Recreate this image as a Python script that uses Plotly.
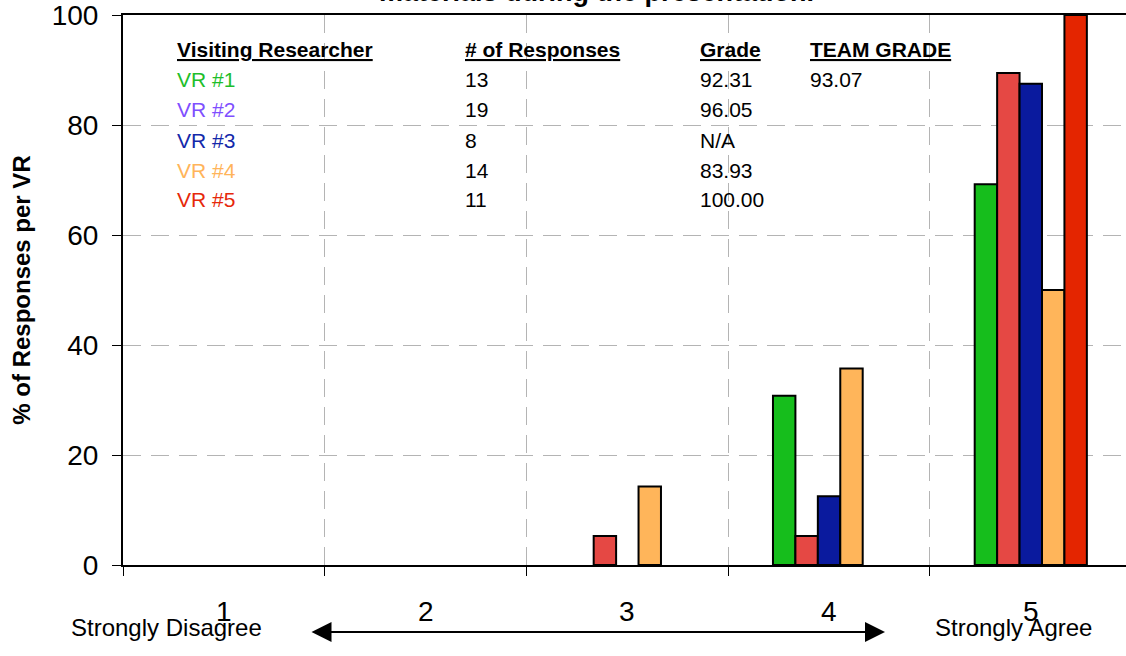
import plotly.graph_objects as go

# ---------------- data ----------------
categories = [1, 2, 3, 4, 5]
tick_labels = ["1", "2", "3", "4", "5"]
series_names = ["VR #1", "VR #2", "VR #3", "VR #4", "VR #5"]
vr1 = [0, 0, 0, 30.77, 69.23]
vr2 = [0, 0, 5.26, 5.26, 89.47]
vr3 = [0, 0, 0, 12.5, 87.5]
vr4 = [0, 0, 14.29, 35.71, 50.0]
vr5 = [0, 0, 0, 0, 100.0]
responses = ["13", "19", "8", "14", "11"]
grades = ["92.31", "96.05", "N/A", "83.93", "100.00"]
team_grade = "93.07"
y_ticks = [0, 20, 40, 60, 80, 100]
title_line = "materials during the presentation."
y_title = "% of Responses per VR"
left_label = "Strongly Disagree"
right_label = "Strongly Agree"

bar_colors = ["#16BE1C", "#E54844", "#0A1A9E", "#FFB55A", "#E42500"]
text_colors = ["#1EBE2A", "#7F4FFF", "#1428AA", "#FFB45A", "#E6280A"]

FONT = "Liberation Sans"
L, T, PW, PH = 123, 15, 1003, 550  # plot area in pixels


def px_x(p):
    return (p - L) / PW


def px_y(p):
    return (T + PH - p) / PH


fig = go.Figure()
for name, vals, col in zip(series_names, [vr1, vr2, vr3, vr4, vr5], bar_colors):
    fig.add_trace(go.Bar(
        x=categories,
        y=[v if v else None for v in vals],
        name=name,
        marker=dict(color=col, line=dict(color="black", width=2)),
        showlegend=False,
        hoverinfo="skip",
    ))

boundaries = [c - 0.5 for c in categories]

fig.update_layout(
    width=1126, height=656,
    margin=dict(l=L, r=0, t=T, b=656 - T - PH, autoexpand=False),
    paper_bgcolor="white", plot_bgcolor="white",
    barmode="group", bargap=0.444, bargroupgap=0,
    font=dict(family=FONT, color="black"),
    xaxis=dict(
        range=[0.5, 5.472],
        tickvals=boundaries,
        ticktext=["" for _ in boundaries],
        ticks="outside", ticklen=9, tickwidth=1, tickcolor="black",
        showgrid=True, gridcolor="#B4B4B4", gridwidth=1, griddash="18px,10px",
        showline=True, linecolor="black", linewidth=2, mirror=True,
        zeroline=False,
    ),
    yaxis=dict(
        range=[0, 100],
        tickvals=y_ticks,
        ticks="outside", ticklen=9, tickwidth=1, tickcolor="black",
        tickfont=dict(size=28, family=FONT),
        ticklabelstandoff=8,
        ticklabeloverflow="allow",
        showgrid=True, gridcolor="#B4B4B4", gridwidth=1, griddash="18px,10px",
        showline=True, linecolor="black", linewidth=2,
        zeroline=False,
        title=dict(text="<b>" + y_title + "</b>", font=dict(size=24, family=FONT), standoff=14),
    ),
)

ann = []
# x category labels
for c, t in zip(categories, tick_labels):
    ann.append(dict(x=c, xref="x", y=0, yref="paper", xanchor="center", yanchor="middle",
                    yshift=-46, text=t, showarrow=False, font=dict(size=28, family=FONT)))

# title (only its last line shows, clipped by the page edge)
ann.append(dict(x=px_x(596), xref="paper", y=1, yref="paper", xanchor="center",
                yanchor="bottom", yshift=6,
                text="<b>" + title_line + "</b>", showarrow=False,
                font=dict(size=27, family=FONT)))

# bottom scale labels
ann.append(dict(x=px_x(166), xref="paper", y=px_y(627), yref="paper", xanchor="center",
                yanchor="middle", text=left_label, showarrow=False,
                font=dict(size=24, family=FONT)))
ann.append(dict(x=px_x(1013), xref="paper", y=px_y(627), yref="paper", xanchor="center",
                yanchor="middle", text=right_label, showarrow=False,
                font=dict(size=24, family=FONT)))

# double-headed arrow
ann.append(dict(x=px_x(885), y=px_y(632), xref="paper", yref="paper",
                ax=-(885 - 310), ay=0, axref="pixel", ayref="pixel",
                text="", showarrow=True, arrowside="end+start",
                arrowhead=2, startarrowhead=2, arrowsize=2, startarrowsize=2,
                arrowwidth=2, arrowcolor="black", standoff=0, startstandoff=0))

# table text
col_x = [175, 463, 698, 808]
headers = ["Visiting Researcher", "# of Responses", "Grade", "TEAM GRADE"]
for x, h in zip(col_x, headers):
    ann.append(dict(x=px_x(x), xref="paper", y=px_y(50), yref="paper",
                    xanchor="left", yanchor="middle", showarrow=False,
                    text="<b><u>" + h + "</u></b>", font=dict(size=21, family=FONT)))
row_y = [79.5, 109.5, 140, 170, 200]
for i, ry in enumerate(row_y):
    ann.append(dict(x=px_x(col_x[0]), xref="paper", y=px_y(ry), yref="paper",
                    xanchor="left", yanchor="middle", showarrow=False,
                    text=series_names[i], font=dict(size=21, family=FONT, color=text_colors[i])))
    ann.append(dict(x=px_x(col_x[1]), xref="paper", y=px_y(ry), yref="paper",
                    xanchor="left", yanchor="middle", showarrow=False,
                    text=responses[i], font=dict(size=21, family=FONT)))
    ann.append(dict(x=px_x(col_x[2]), xref="paper", y=px_y(ry), yref="paper",
                    xanchor="left", yanchor="middle", showarrow=False,
                    text=grades[i], font=dict(size=21, family=FONT)))
ann.append(dict(x=px_x(col_x[3]), xref="paper", y=px_y(row_y[0]), yref="paper",
                xanchor="left", yanchor="middle", showarrow=False,
                text=team_grade, font=dict(size=21, family=FONT)))

fig.update_layout(annotations=ann)
fig.write_html("out.html",
               config={"displayModeBar": False},
               post_script="document.body.style.margin='0';document.body.style.overflow='hidden';")
